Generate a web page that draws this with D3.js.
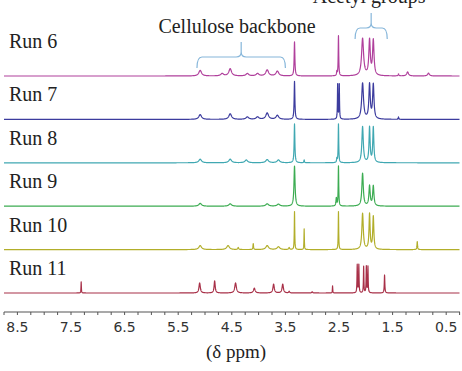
<!DOCTYPE html>
<html>
<head>
<meta charset="utf-8">
<script src="https://cdn.jsdelivr.net/npm/d3@7"></script>
<style>
  body { margin: 0; background: #fff; }
  text { font-family: "Liberation Serif", "Times New Roman", serif; }
</style>
</head>
<body>
<svg id="my_svg"></svg>
<script>
const width = 462;
const height = 371;

// runs, top to bottom
const runs = ["Run 6", "Run 7", "Run 8", "Run 9", "Run 10", "Run 11"];
const runColors = ["#b0409c", "#3c3c9e", "#40a8b2", "#3cac52", "#b2ae2a", "#a83048"];

// peaks: [ppm, relative intensity, half width (ppm)]
const peaksRun6 = [
  [5.09, 0.14, 0.03], [4.68, 0.06, 0.03], [4.53, 0.18, 0.03], [4.21, 0.06, 0.03],
  [4.02, 0.06, 0.03], [3.84, 0.15, 0.03], [3.65, 0.12, 0.03],
  [3.33, 0.85, 0.008], [2.54, 0.1, 0.006], [2.51, 1.0, 0.006],
  [2.06, 0.93, 0.022], [1.93, 0.88, 0.016], [1.86, 0.88, 0.016],
  [1.39, 0.05, 0.008], [1.22, 0.1, 0.02], [0.83, 0.07, 0.02]
];
const peaksRun7 = [
  [5.09, 0.12, 0.03], [4.53, 0.14, 0.03], [4.21, 0.06, 0.03], [4.02, 0.06, 0.03],
  [3.84, 0.16, 0.03], [3.65, 0.1, 0.03],
  [3.33, 0.95, 0.008], [2.525, 0.9, 0.005], [2.495, 0.9, 0.005],
  [2.06, 0.9, 0.02], [1.93, 0.86, 0.015], [1.86, 0.86, 0.015],
  [1.39, 0.06, 0.005]
];
const peaksRun8 = [
  [5.09, 0.09, 0.03], [4.53, 0.09, 0.03], [4.23, 0.07, 0.03], [3.84, 0.08, 0.03],
  [3.63, 0.07, 0.03], [3.33, 0.97, 0.008], [3.15, 0.07, 0.006],
  [2.54, 0.1, 0.006], [2.51, 0.97, 0.006],
  [2.06, 0.9, 0.016], [1.93, 0.88, 0.012], [1.86, 0.88, 0.012]
];
const peaksRun9 = [
  [5.09, 0.07, 0.03], [4.53, 0.06, 0.03], [3.84, 0.06, 0.03], [3.63, 0.05, 0.03],
  [3.33, 1.0, 0.012], [2.55, 0.2, 0.008], [2.51, 1.0, 0.006],
  [2.06, 0.82, 0.016], [1.93, 0.5, 0.014], [1.86, 0.5, 0.014]
];
const peaksRun10 = [
  [5.09, 0.1, 0.03], [4.57, 0.1, 0.03], [4.38, 0.05, 0.01], [4.1, 0.15, 0.006],
  [3.84, 0.1, 0.03], [3.63, 0.07, 0.03], [3.43, 0.05, 0.01],
  [3.33, 0.95, 0.005], [3.15, 0.52, 0.004], [2.51, 0.95, 0.005],
  [2.06, 0.9, 0.016], [1.93, 0.88, 0.012], [1.86, 0.82, 0.012],
  [1.04, 0.2, 0.006]
];
const peaksRun11 = [
  [7.31, 0.28, 0.004], [5.1, 0.25, 0.015], [4.82, 0.3, 0.012], [4.43, 0.25, 0.018],
  [4.08, 0.12, 0.018], [3.72, 0.22, 0.015], [3.55, 0.22, 0.015], [3.43, 0.04, 0.01],
  [3.0, 0.03, 0.01], [2.62, 0.18, 0.004],
  [2.16, 0.7, 0.005], [2.13, 0.7, 0.005], [2.04, 0.66, 0.005],
  [1.99, 0.66, 0.005], [1.96, 0.66, 0.005], [1.65, 0.45, 0.006]
];
const runPeaks = [peaksRun6, peaksRun7, peaksRun8, peaksRun9, peaksRun10, peaksRun11];

// axis
const tickLabels = [8.5, 7.5, 6.5, 5.5, 4.5, 3.5, 2.5, 1.5, 0.5];
const minorStep = 0.25;
const axisTitle = "(δ ppm)";

// brackets over the top spectrum
const braceLabels = ["Cellulose backbone", "Acetyl groups"];
const braceFrom = [5.15, 2.2];
const braceTo = [3.5, 1.6];

const svg = d3.select('#my_svg')
  .attr('width', width)
  .attr('height', height);

svg.append('rect')
  .attr('width', width)
  .attr('height', height)
  .attr('fill', '#fff');

let x = d3.scaleLinear().domain([8.75, 0.25]).range([4, 459.6]);
let yBase = d3.scaleLinear().domain([0, runs.length - 1]).range([76, 293]);
let yInt = d3.scaleLinear().domain([0, 1]).range([0, 40]);

// spectrum = sum of lorentzian lines of the peak list
let grid = d3.range(8.75, 0.25, -0.002);
let spectrum = peaks => grid.map(p => [p, d3.sum(peaks, k => k[1] * k[2] * k[2] / ((p - k[0]) * (p - k[0]) + k[2] * k[2]))]);

runs.forEach((name, i) => {
  let base = yBase(i);
  let line = d3.line()
    .x(d => x(d[0]))
    .y(d => base - yInt(d[1]));

  svg.append("path")
    .attr("d", line(spectrum(runPeaks[i])))
    .attr("fill", "none")
    .attr("stroke", runColors[i])
    .attr("stroke-width", 1.2)
    .attr("stroke-linejoin", "round");

  svg.append("text")
    .attr("x", 9)
    .attr("y", base - (i === 0 ? 28 : 18))
    .attr("font-size", "20px")
    .attr("fill", "#222")
    .text(name);
});

// brackets
braceLabels.forEach((label, i) => {
  let x0 = x(braceFrom[i]), x1 = x(braceTo[i]);
  let xm = (x0 + x1) / 2;
  let top = i === 0 ? 57 : 28;
  let r = 5;
  svg.append("path")
    .attr("d", `M${x0},${top + 11} Q${x0},${top} ${x0 + r},${top} L${xm - r},${top} Q${xm},${top} ${xm},${top - r} L${xm},${top - 15}` +
      ` M${xm},${top - r} Q${xm},${top} ${xm + r},${top} L${x1 - r},${top} Q${x1},${top} ${x1},${top + 11}`)
    .attr("fill", "none")
    .attr("stroke", "#86b6da")
    .attr("stroke-width", 1.2);

  svg.append("text")
    .attr("x", i === 0 ? 237 : xm - 2)
    .attr("y", i === 0 ? 33 : 3)
    .attr("text-anchor", "middle")
    .attr("font-size", "20px")
    .attr("fill", "#222")
    .text(label);
});

// x axis
let axisY = 312;
svg.append("line")
  .attr("x1", 4).attr("x2", 460)
  .attr("y1", axisY).attr("y2", axisY)
  .attr("stroke", "#555")
  .attr("stroke-width", 1.2);

let minor = d3.range(8.75, 0.2, -minorStep);
svg.selectAll(".tick")
  .data(minor).join("line")
  .attr("class", "tick")
  .attr("x1", d => x(d)).attr("x2", d => x(d))
  .attr("y1", axisY).attr("y2", axisY + 3)
  .attr("stroke", "#555");

svg.selectAll(".tlabel")
  .data(tickLabels).join("text")
  .attr("class", "tlabel")
  .attr("x", d => x(d))
  .attr("y", 332)
  .attr("text-anchor", "middle")
  .style("font-family", "'DejaVu Sans', Verdana, sans-serif")
  .attr("font-size", "14px")
  .attr("fill", "#333")
  .text(d => d.toFixed(1));

svg.append("text")
  .attr("x", 236)
  .attr("y", 358)
  .attr("text-anchor", "middle")
  .attr("font-size", "19px")
  .attr("fill", "#222")
  .text(axisTitle);
</script>
</body>
</html>
